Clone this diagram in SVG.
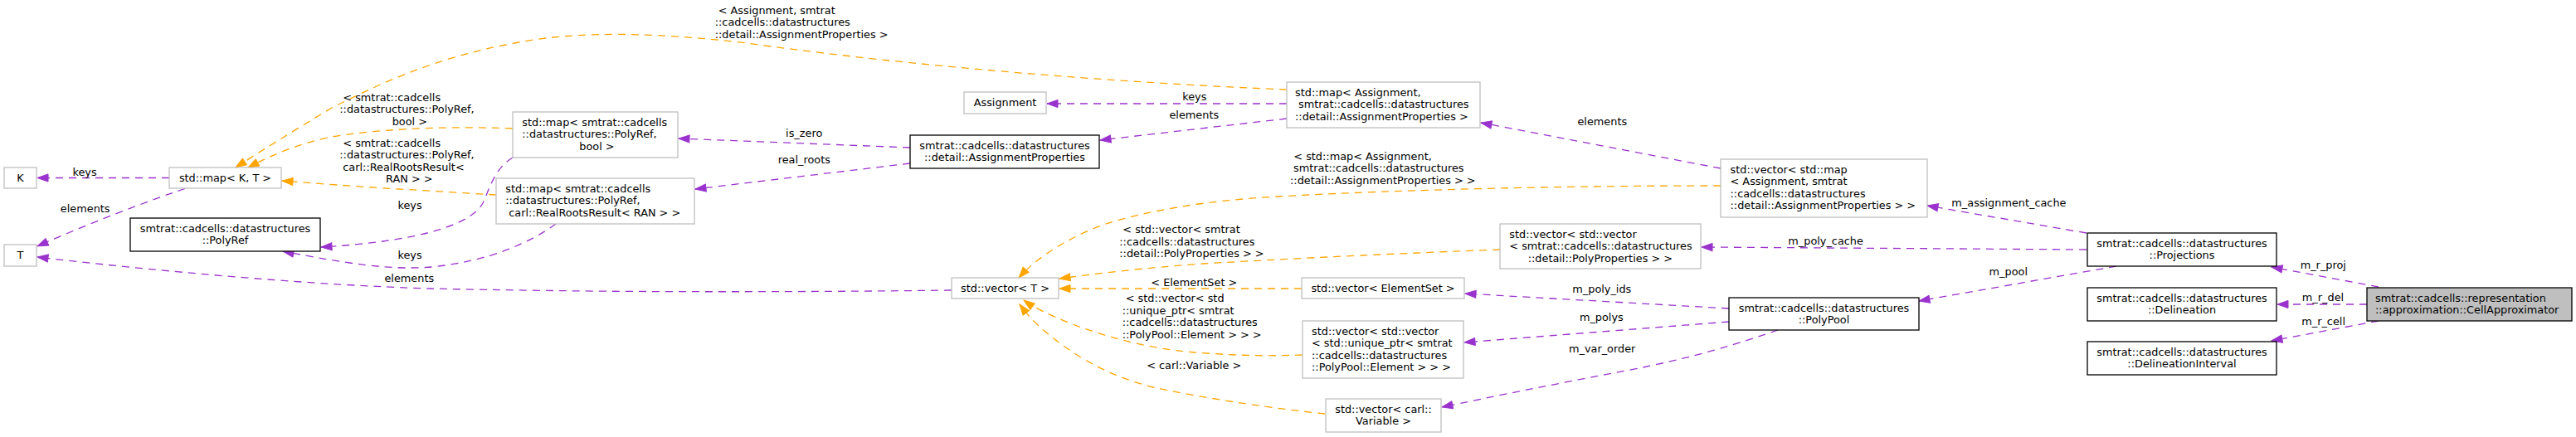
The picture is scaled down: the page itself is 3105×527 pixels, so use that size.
<svg xmlns="http://www.w3.org/2000/svg" width="3105" height="527" viewBox="0 0 3105 527">
<defs>
<style>
text { font-family: "DejaVu Sans", "Liberation Sans", sans-serif; font-size: 12.85px; fill: #000; }
.m { text-anchor: middle; }
.n rect { fill: #ffffff; stroke: #bfbfbf; stroke-width: 1.3; }
.d rect { fill: #ffffff; stroke: #000000; stroke-width: 1.3; }
.d.root rect { fill: #bfbfbf; }
.e path { fill: none; stroke-width: 1.3; stroke-dasharray: 9,7; }
.u path { stroke: #9a32cd; marker-end: url(#ap); }
.o path { stroke: #ffa500; marker-end: url(#ao); }
</style>
<marker id="ap" markerUnits="userSpaceOnUse" markerWidth="16" markerHeight="12" refX="13" refY="4.6" orient="auto" overflow="visible">
<path d="M0,0 L13,4.6 L0,9.2 z" fill="#9a32cd" stroke="#9a32cd" stroke-width="1"/>
</marker>
<marker id="ao" markerUnits="userSpaceOnUse" markerWidth="16" markerHeight="12" refX="13" refY="4.6" orient="auto" overflow="visible">
<path d="M0,0 L13,4.6 L0,9.2 z" fill="#ffa500" stroke="#ffa500" stroke-width="1"/>
</marker>
</defs>
<rect x="0" y="0" width="3105" height="527" fill="#ffffff"/>

<g id="connectors" class="e">
  <g class="u">
    <path d="M204,214.5 L45,214.5"/>
    <path d="M223,227.5 C185,240 110,268 45,297"/>
    <path d="M1147,350 C900,353 700,352 520,348 C380,344 200,328 45,310"/>
    <path d="M618,190 C596,203 590,228 582,245 C565,275 490,292 387,298"/>
    <path d="M670,270 C640,292 590,315 520,322 C470,326 420,318 341,303"/>
    <path d="M1097,178 L818,167"/>
    <path d="M1097,197 L838,228"/>
    <path d="M1551,125 L1262,125"/>
    <path d="M1551,143 L1326,169"/>
    <path d="M2074,203 L1785,148"/>
    <path d="M2515,281 L2323,248"/>
    <path d="M2515,301 L2051,298"/>
    <path d="M2551,321 L2313,363"/>
    <path d="M2084,372 L1766,354"/>
    <path d="M2084,388 L1765,413"/>
    <path d="M2143,398 C2100,413 2040,432 1960,447 C1880,462 1800,478 1738,491"/>
    <path d="M2867,346 L2738,322"/>
    <path d="M2853,367 L2745,367"/>
    <path d="M2867,387 L2738,411"/>
  </g>
  <g class="o">
    <path d="M1551,108 C1350,100 1100,80 900,52 C800,40 700,36 620,52 C520,70 450,105 400,130 C350,160 310,185 284,202"/>
    <path d="M618,155 C520,151 440,158 400,165 C360,173 325,188 299,202"/>
    <path d="M598,235 C560,233 520,230 480,228 C430,225 380,221 340,218"/>
    <path d="M2074,224 C1900,224 1700,228 1540,237 C1450,242 1380,255 1333,270 C1290,285 1250,310 1228,335"/>
    <path d="M1808,301 C1700,305 1550,312 1450,318 C1380,323 1320,330 1277,336"/>
    <path d="M1569,348 L1277,348"/>
    <path d="M1570,428 C1520,430 1480,428 1440,425 C1380,420 1330,405 1290,390 C1265,380 1245,370 1234,362"/>
    <path d="M1597,499 C1540,493 1460,482 1390,467 C1330,452 1290,425 1260,400 C1245,388 1235,375 1229,367"/>
  </g>
  <g id="edge-labels">
    <text class="m" x="102" y="211.5">keys</text>
    <text class="m" x="102.7" y="256">elements</text>
    <text class="m" x="494" y="251.5">keys</text>
    <text class="m" x="494" y="311.5">keys</text>
    <text class="m" x="493.3" y="340">elements</text>
    <text class="m" x="969.2" y="164.8">is_zero</text>
    <text class="m" x="969.3" y="197">real_roots</text>
    <text class="m" x="1439.8" y="120.8">keys</text>
    <text class="m" x="1439.3" y="142.5">elements</text>
    <text class="m" x="1931.3" y="151">elements</text>
    <text class="m" x="2421.4" y="249">m_assignment_cache</text>
    <text class="m" x="2200.6" y="294.5">m_poly_cache</text>
    <text class="m" x="2420.8" y="331.5">m_pool</text>
    <text class="m" x="1930.8" y="353">m_poly_ids</text>
    <text class="m" x="1930.3" y="387">m_polys</text>
    <text class="m" x="1931.2" y="424.8">m_var_order</text>
    <text class="m" x="2800.3" y="324">m_r_proj</text>
    <text class="m" x="2800" y="363">m_r_del</text>
    <text class="m" x="2800.6" y="391.5">m_r_cell</text>

    <text x="865.7" y="16.5">&lt; Assignment, smtrat</text>
    <text x="861.7" y="31">::cadcells::datastructures</text>
    <text x="861.7" y="45.5">::detail::AssignmentProperties &gt;</text>

    <text x="413.3" y="121.5">&lt; smtrat::cadcells</text>
    <text x="409.3" y="136">::datastructures::PolyRef,</text>
    <text x="472.7" y="150.5">bool &gt;</text>

    <text x="413.3" y="176.5">&lt; smtrat::cadcells</text>
    <text x="409.3" y="191">::datastructures::PolyRef,</text>
    <text x="413.3" y="205.5">carl::RealRootsResult&lt;</text>
    <text x="465" y="220">RAN &gt; &gt;</text>

    <text x="1559.3" y="192.5">&lt; std::map&lt; Assignment,</text>
    <text x="1559" y="207">smtrat::cadcells::datastructures</text>
    <text x="1555" y="221.5">::detail::AssignmentProperties &gt; &gt;</text>

    <text x="1353.3" y="281">&lt; std::vector&lt; smtrat</text>
    <text x="1349.3" y="295.5">::cadcells::datastructures</text>
    <text x="1349.3" y="310">::detail::PolyProperties &gt; &gt;</text>

    <text class="m" x="1439.3" y="344.5">&lt; ElementSet &gt;</text>

    <text x="1356.7" y="364">&lt; std::vector&lt; std</text>
    <text x="1352.7" y="378.5">::unique_ptr&lt; smtrat</text>
    <text x="1352.7" y="393">::cadcells::datastructures</text>
    <text x="1352.7" y="407.5">::PolyPool::Element &gt; &gt; &gt;</text>

    <text class="m" x="1439.3" y="444.5">&lt; carl::Variable &gt;</text>
  </g>
</g>

<g id="node_K" class="n"><rect x="5" y="202" width="39" height="25"/><text class="m" x="24.5" y="218.7">K</text></g>
<g id="node_mapKT" class="n"><rect x="204" y="202" width="135" height="25"/><text class="m" x="271.5" y="218.7">std::map&lt; K, T &gt;</text></g>
<g id="node_T" class="n"><rect x="5" y="295" width="39" height="26"/><text class="m" x="24.5" y="312">T</text></g>
<g id="node_PolyRef" class="d"><rect x="157" y="263" width="229" height="40"/><text class="m" x="271.5" y="279.5">smtrat::cadcells::datastructures</text><text class="m" x="271.5" y="294">::PolyRef</text></g>
<g id="node_mapPolyRefBool" class="n"><rect x="618" y="135" width="199" height="55"/><text x="629.3" y="151.5">std::map&lt; smtrat::cadcells</text><text x="629.3" y="166">::datastructures::PolyRef,</text><text x="698.3" y="180.5">bool &gt;</text></g>
<g id="node_mapPolyRefRoots" class="n"><rect x="598" y="215" width="239" height="55"/><text x="609.3" y="231.5">std::map&lt; smtrat::cadcells</text><text x="609.3" y="246">::datastructures::PolyRef,</text><text x="613.3" y="260.5">carl::RealRootsResult&lt; RAN &gt; &gt;</text></g>
<g id="node_Assignment" class="n"><rect x="1162" y="111" width="99" height="26"/><text class="m" x="1211.5" y="127.7">Assignment</text></g>
<g id="node_AssignmentProperties" class="d"><rect x="1097" y="163" width="228" height="40"/><text class="m" x="1211" y="179.5">smtrat::cadcells::datastructures</text><text class="m" x="1211" y="194">::detail::AssignmentProperties</text></g>
<g id="node_mapAssignment" class="n"><rect x="1551" y="99" width="233" height="55"/><text x="1561" y="115.5">std::map&lt; Assignment,</text><text x="1565" y="130">smtrat::cadcells::datastructures</text><text x="1561" y="144.5">::detail::AssignmentProperties &gt;</text></g>
<g id="node_vectorMap" class="n"><rect x="2074" y="192" width="249" height="70"/><text x="2085.5" y="208.5">std::vector&lt; std::map</text><text x="2085.5" y="223">&lt; Assignment, smtrat</text><text x="2085.5" y="237.5">::cadcells::datastructures</text><text x="2085.5" y="252">::detail::AssignmentProperties &gt; &gt;</text></g>
<g id="node_vectorVectorPolyProps" class="n"><rect x="1808" y="270" width="242" height="54"/><text x="1819.3" y="286.5">std::vector&lt; std::vector</text><text x="1819.3" y="301">&lt; smtrat::cadcells::datastructures</text><text x="1841.7" y="315.5">::detail::PolyProperties &gt; &gt;</text></g>
<g id="node_vectorElementSet" class="n"><rect x="1569" y="335" width="196" height="25"/><text class="m" x="1667" y="351.7">std::vector&lt; ElementSet &gt;</text></g>
<g id="node_vectorVectorUniquePtr" class="n"><rect x="1570" y="387" width="194" height="69"/><text x="1581" y="403.5">std::vector&lt; std::vector</text><text x="1581" y="418">&lt; std::unique_ptr&lt; smtrat</text><text x="1581" y="432.5">::cadcells::datastructures</text><text x="1581" y="447">::PolyPool::Element &gt; &gt; &gt;</text></g>
<g id="node_vectorVariable" class="n"><rect x="1598" y="481" width="139" height="40"/><text class="m" x="1667.5" y="497.5">std::vector&lt; carl::</text><text class="m" x="1667.5" y="512">Variable &gt;</text></g>
<g id="node_vectorT" class="n"><rect x="1147" y="335" width="129" height="25"/><text class="m" x="1211.5" y="351.7">std::vector&lt; T &gt;</text></g>
<g id="node_PolyPool" class="d"><rect x="2084" y="359" width="229" height="39"/><text class="m" x="2198.5" y="375.5">smtrat::cadcells::datastructures</text><text class="m" x="2198.5" y="390">::PolyPool</text></g>
<g id="node_Projections" class="d"><rect x="2516" y="281" width="228" height="40"/><text class="m" x="2630" y="297.5">smtrat::cadcells::datastructures</text><text class="m" x="2630" y="312">::Projections</text></g>
<g id="node_Delineation" class="d"><rect x="2516" y="347" width="228" height="40"/><text class="m" x="2630" y="363.5">smtrat::cadcells::datastructures</text><text class="m" x="2630" y="378">::Delineation</text></g>
<g id="node_DelineationInterval" class="d"><rect x="2516" y="412" width="228" height="40"/><text class="m" x="2630" y="428.5">smtrat::cadcells::datastructures</text><text class="m" x="2630" y="443">::DelineationInterval</text></g>
<g id="node_CellApproximator" class="d root"><rect x="2853" y="347" width="247" height="40"/><text x="2863" y="363.5">smtrat::cadcells::representation</text><text x="2863" y="378">::approximation::CellApproximator</text></g>
</svg>
